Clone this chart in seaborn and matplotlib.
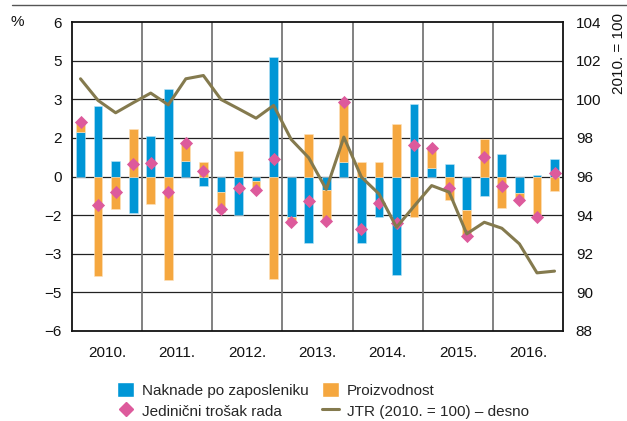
import numpy as np
import pandas as pd
import matplotlib
matplotlib.use('Agg')
from matplotlib import pyplot as plt
from matplotlib.patches import Patch
from matplotlib.lines import Line2D
import seaborn as sns

# quarterly data, 2010 Q1 - 2016 Q4
years = ['2010.', '2011.', '2012.', '2013.', '2014.', '2015.', '2016.']
naknade = [1.73, 2.74, 0.62, -1.40, 1.58, 3.39, 0.60, -0.36,
           -0.61, -1.48, -0.16, 4.65, -1.58, -2.60, -0.51, 0.56,
           -2.60, -1.57, -3.84, 2.82, 0.32, 0.48, -1.29, -0.74,
           0.86, -0.65, 0.06, 0.68]
proizvodnost = [0.39, -3.88, -1.26, 1.86, -1.08, -4.03, 0.71, 0.58,
                -0.78, 1.00, -0.29, -3.97, -0.13, 1.64, -1.23, 2.34,
                0.56, 0.56, 2.04, -1.58, 0.80, -0.91, -1.01, 1.47,
                -1.23, -0.29, -1.58, -0.55]
jtr_promjena = [2.12, -1.10, -0.62, 0.48, 0.53, -0.60, 1.32, 0.22,
                -1.25, -0.45, -0.53, 0.68, -1.78, -0.95, -1.74, 2.90,
                -2.05, -1.01, -1.81, 1.23, 1.12, -0.43, -2.30, 0.74,
                -0.36, -0.91, -1.58, 0.14]
jtr_indeks = [101.06, 99.94, 99.30, 99.82, 100.32, 99.71, 101.06, 101.23,
              99.99, 99.51, 99.02, 99.68, 97.92, 96.97, 95.33, 98.04,
              95.97, 95.10, 93.37, 94.46, 95.53, 95.19, 93.03, 93.63,
              93.32, 92.51, 91.01, 91.10]
left_ticks = [-6, -4.5, -3, -1.5, 0, 1.5, 3, 4.5, 6]
left_labels = ['\u22126', '\u22125', '\u22123', '\u22122', '0', '2', '3', '5', '6']
right_ticks = [88, 90, 92, 94, 96, 98, 100, 102, 104]

BLUE = '#0096d6'
ORANGE = '#f5a73f'
PINK = '#dd5a9c'
OLIVE = '#847a4e'

df = pd.DataFrame({'q': np.arange(len(naknade)),
                   'naknade': naknade,
                   'proizvodnost': proizvodnost,
                   'jtr': jtr_promjena,
                   'indeks': jtr_indeks})
# stacking: orange sits on the blue bar when both have the same sign
same_sign = np.sign(df['naknade']) == np.sign(df['proizvodnost'])
df['bottom'] = np.where(same_sign, df['naknade'], 0.0)

sns.set_theme(style='white')
plt.rcParams['font.family'] = ['Liberation Sans', 'DejaVu Sans']
plt.rcParams['font.size'] = 11

fig = plt.figure(figsize=(6.27, 4.21), dpi=100)
ax = fig.add_axes([0.1144, 0.2138, 0.784, 0.7339])

ax.bar(df['q'], df['naknade'], width=0.5, color=BLUE, edgecolor='#bfe4f5', linewidth=0.4, zorder=3)
ax.bar(df['q'], df['proizvodnost'], bottom=df['bottom'], width=0.5, color=ORANGE,
       edgecolor='#fde3bf', linewidth=0.4, zorder=3)
sns.scatterplot(data=df, x='q', y='jtr', marker='D', s=45, color=PINK, edgecolor=PINK,
                linewidth=0, ax=ax, zorder=5, legend=False)

ax.set_xlim(-0.5, len(naknade) - 0.5)
ax.set_ylim(-6, 6)
ax.set_yticks(left_ticks)
ax.set_yticklabels(left_labels)
ax.set_xticks(np.arange(len(years)) * 4 + 1.5)
ax.set_xticklabels(years)
ax.set_xlabel('')
ax.set_ylabel('')
ax.tick_params(axis='x', length=0, pad=11, labelsize=11, colors='#111111')
ax.tick_params(axis='y', length=0, pad=7, labelsize=11, colors='#111111')
for t in left_ticks[1:-1]:
    ax.axhline(t, color='#222222', linewidth=0.9, zorder=1)
for b in np.arange(1, len(years)) * 4 - 0.5:
    ax.axvline(b, color='#777777', linewidth=1.3, zorder=1)
for s in ax.spines.values():
    s.set_color('#111111')
    s.set_linewidth(1.3)

ax2 = ax.twinx()
sns.lineplot(data=df, x='q', y='indeks', color=OLIVE, linewidth=2.2, ax=ax2, zorder=4)
ax2.set_ylim(88, 104)
ax2.set_yticks(right_ticks)
ax2.set_ylabel('')
ax2.tick_params(axis='y', length=0, pad=9, labelsize=11, colors='#111111')
ax2.grid(False)
for s in ax2.spines.values():
    s.set_visible(False)

fig.text(0.027, 0.948, '%', fontsize=11, ha='center', va='center', color='#111111')
fig.text(0.987, 0.872, '2010. = 100', fontsize=11, rotation=90, ha='center', va='center',
         color='#111111')
fig.add_artist(Line2D([0.019, 1.0], [0.988, 0.988], color='#555555', linewidth=1.0))

handles = [Patch(facecolor=BLUE), Line2D([], [], marker='D', color=PINK, linestyle='', markersize=7),
           Patch(facecolor=ORANGE), Line2D([], [], color=OLIVE, linewidth=2.2)]
labels = ['Naknade po zaposleniku', 'Jedinični trošak rada', 'Proizvodnost', 'JTR (2010. = 100) – desno']
fig.legend(handles, labels, ncol=2, loc='upper left', bbox_to_anchor=(0.175, 0.11),
           frameon=False, fontsize=11, handlelength=1.1, handleheight=1.1, handletextpad=0.5,
           columnspacing=0.9, labelspacing=0.35, borderpad=0)

fig.savefig('out.png', dpi=100)
